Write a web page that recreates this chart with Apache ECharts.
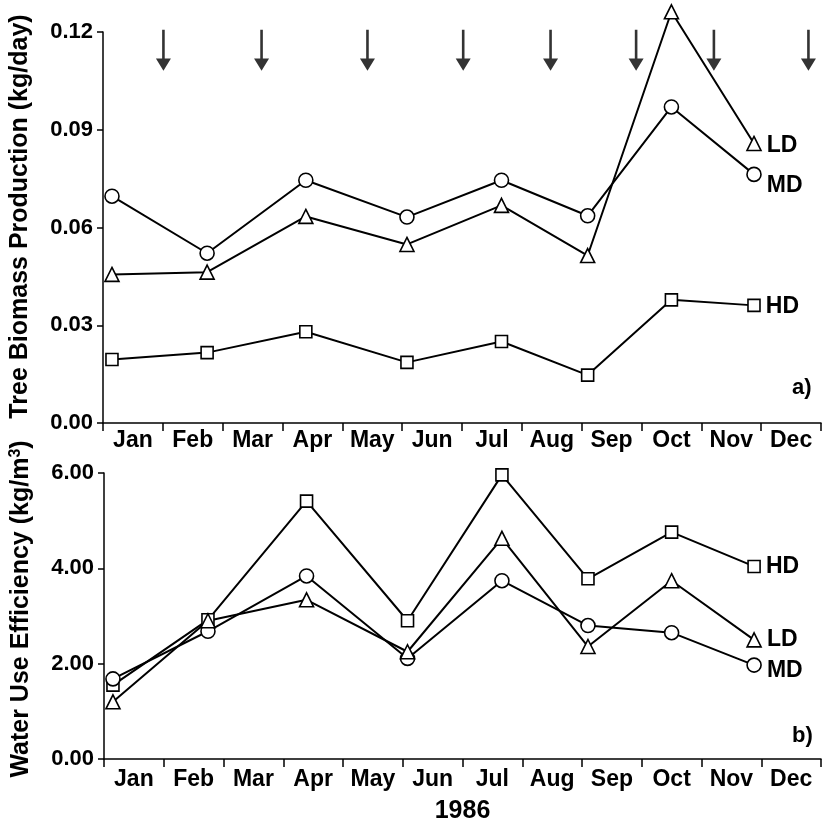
<!DOCTYPE html>
<html>
<head>
<meta charset="utf-8">
<script src="https://cdn.jsdelivr.net/npm/echarts@6/dist/echarts.min.js"></script>
<style>
  html, body { margin: 0; padding: 0; background: #fff; }
  #main { width: 822px; height: 825px; }
</style>
</head>
<body>
<div id="main"></div>
<script>
// month labels of the x axis
var months = ['Jan', 'Feb', 'Mar', 'Apr', 'May', 'Jun', 'Jul', 'Aug', 'Sep', 'Oct', 'Nov', 'Dec'];
// sampling dates, in months from 1 Jan
var sampleMonth = [0.15, 1.74, 3.39, 5.08, 6.66, 8.10, 9.50, 10.88];
// irrigation arrows, in months from 1 Jan
var arrowMonth = [1.01, 2.65, 4.42, 6.02, 7.48, 8.91, 10.21, 11.79];

// a) tree biomass production (kg/day)
var biomassLD = [0.0456, 0.0463, 0.0634, 0.0548, 0.0668, 0.0514, 0.1262, 0.0858];
var biomassMD = [0.0696, 0.0521, 0.0745, 0.0632, 0.0745, 0.0636, 0.0970, 0.0763];
var biomassHD = [0.0195, 0.0216, 0.0280, 0.0186, 0.0250, 0.0147, 0.0378, 0.0361];

// b) water use efficiency (kg/m3)
var wueLD = [1.20, 2.90, 3.34, 2.25, 4.63, 2.36, 3.74, 2.50];
var wueMD = [1.68, 2.68, 3.84, 2.11, 3.74, 2.80, 2.65, 1.97];
var wueHD = [1.55, 2.92, 5.41, 2.90, 5.96, 3.78, 4.76, 4.04];

var dom = document.getElementById('main');
var myChart = echarts.init(dom);
var font = 'Liberation Sans, Arial, sans-serif';

function pairs(vals, labelText, dy) {
	return vals.map(function (v, i) {
		var item = { value: [sampleMonth[i], v] };
		if (i == vals.length - 1) {
			item.label = {
				show: true,
				formatter: labelText,
				position: 'right',
				distance: 5,
				offset: [0, dy],
				color: '#000',
				fontFamily: font,
				fontWeight: 'bold',
				fontSize: 23
			};
		}
		return item;
	});
}

function lineSeries(gridIdx, vals, symbol, size, labelText, dy) {
	return {
		type: 'line',
		xAxisIndex: gridIdx * 2,
		yAxisIndex: gridIdx,
		data: pairs(vals, labelText, dy),
		symbol: symbol,
		symbolSize: size,
		showAllSymbol: true,
		clip: false,
		lineStyle: { color: '#000', width: 2 },
		itemStyle: { color: '#fff', borderColor: '#000', borderWidth: 1.6 },
		animation: false,
		z: 3
	};
}

function valueX(gridIdx) {
	return { type: 'value', gridIndex: gridIdx, min: 0, max: 12, position: 'top', show: false };
}

function monthX(gridIdx, name, margin) {
	return {
		type: 'category',
		gridIndex: gridIdx,
		position: 'bottom',
		data: months,
		boundaryGap: true,
		name: name || '',
		nameLocation: 'middle',
		nameGap: 40,
		nameTextStyle: { color: '#000', fontFamily: font, fontWeight: 'bold', fontSize: 25 },
		axisLine: { lineStyle: { color: '#000', width: 1.5 } },
		axisTick: { show: true, length: 8, alignWithLabel: false, lineStyle: { color: '#000', width: 1.5 } },
		axisLabel: { color: '#000', fontFamily: font, fontWeight: 'bold', fontSize: 23, margin: margin, interval: 0 },
		splitLine: { show: false }
	};
}

function valueY(gridIdx, max, interval, name, shift, rich) {
	return {
		type: 'value',
		gridIndex: gridIdx,
		min: 0,
		max: max,
		interval: interval,
		name: name,
		nameLocation: 'middle',
		nameGap: 70,
		nameRotate: 90,
		nameTextStyle: {
			color: '#000', fontFamily: font, fontWeight: 'bold', fontSize: 25,
			padding: [0, 0, 0, shift], rich: rich
		},
		axisLine: { show: true, lineStyle: { color: '#000', width: 1.5 } },
		axisTick: { show: true, length: 6, lineStyle: { color: '#000', width: 1.5 } },
		axisLabel: {
			color: '#000', fontFamily: font, fontWeight: 'bold', fontSize: 22, margin: 10,
			formatter: function (v) { return v.toFixed(2); }
		},
		splitLine: { show: false }
	};
}

var supStyle = {
	sup: { fontSize: 16, fontWeight: 'bold', fontFamily: font, color: '#000', verticalAlign: 'top', padding: [0, 0, 10, 0] }
};

option = null;
option = {
	backgroundColor: '#fff',
	animation: false,
	grid: [
		{ left: 102, right: 1, top: 32, height: 391 },
		{ left: 102, right: 1, top: 473, height: 290 }
	],
	xAxis: [valueX(0), monthX(0, '', 6), valueX(1), monthX(1, '1986', 9)],
	yAxis: [
		valueY(0, 0.12, 0.03, 'Tree Biomass Production (kg/day)', 22, {}),
		valueY(1, 6, 2, 'Water Use Efficiency (kg/m{sup|3})', 14, supStyle)
	],
	graphic: [
		{ type: 'text', left: 792, top: 377, style: { text: 'a)', fill: '#000', font: 'bold 22px ' + font } },
		{ type: 'text', left: 792, top: 725, style: { text: 'b)', fill: '#000', font: 'bold 22px ' + font } }
	],
	series: [
		{
			type: 'scatter',
			xAxisIndex: 0,
			yAxisIndex: 0,
			data: arrowMonth.map(function (m) { return [m, 0.1144]; }),
			symbol: 'path://M6.2,0 L8.8,0 L8.8,28 L15,28 L7.5,40 L0,28 L6.2,28 Z',
			symbolSize: [15, 41],
			itemStyle: { color: '#000' },
			silent: true
		},
		lineSeries(0, biomassHD, 'rect', 12, 'HD', 1),
		lineSeries(0, biomassMD, 'circle', 14, 'MD', 11),
		lineSeries(0, biomassLD, 'triangle', 14, 'LD', 2),
		lineSeries(1, wueHD, 'rect', 12, 'HD', 0),
		lineSeries(1, wueMD, 'circle', 14, 'MD', 6),
		lineSeries(1, wueLD, 'triangle', 14, 'LD', 0)
	]
};

if (option && typeof option === "object") {
	myChart.setOption(option, true);
}
</script>
</body>
</html>
